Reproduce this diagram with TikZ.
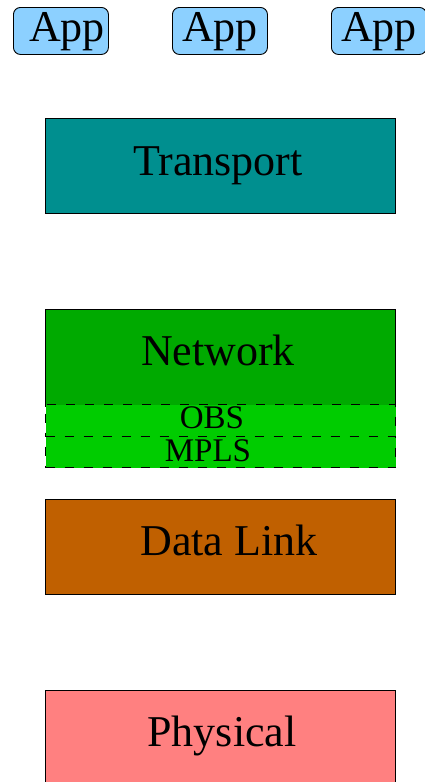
\documentclass[tikz,border=0pt]{standalone}
\usepackage{fontspec}
\setmainfont{Liberation Serif}
\begin{document}
\begin{tikzpicture}[x=1pt,y=-1pt,
  layer/.style={draw=black,line width=0.9pt,minimum width=350pt,minimum height=95pt,inner sep=0pt,anchor=north west},
  sublayer/.style={draw=black,dash pattern=on 9pt off 10pt,line width=1.2pt,fill=subgreen,minimum width=350pt,inner sep=0pt,anchor=north west},
  appbox/.style={draw=black,line width=0.9pt,fill=appblue,rounded corners=7pt,minimum width=95pt,minimum height=47pt,inner sep=0pt,anchor=north west},
  big/.style={font=\fontsize{44}{48}\selectfont,inner sep=0pt},
  small/.style={font=\fontsize{33}{36}\selectfont,inner sep=0pt}]
\definecolor{appblue}{RGB}{140,208,255}
\definecolor{transteal}{RGB}{0,143,143}
\definecolor{netgreen}{RGB}{0,170,0}
\definecolor{subgreen}{RGB}{0,204,0}
\definecolor{linkbrown}{RGB}{192,96,0}
\definecolor{physpink}{RGB}{255,128,128}
\useasboundingbox (0,0) rectangle (425,782);

% application boxes
\node[appbox] (app1) at (13,7) {};
\node[appbox] (app2) at (172,7) {};
\node[appbox] (app3) at (331,7) {};
\node[big,anchor=base] at (67,41) {App};
\node[big,anchor=base] at (220,41) {App};
\node[big,anchor=base] at (379,41) {App};

% protocol layers
\node[layer,fill=transteal] (transport) at (45,118) {};
\node[big,anchor=base] at (218,175) {Transport};

% network box: filled a little past its bottom so the OBS sublayer overlaps it;
% outline on three sides, the bottom edge belongs to the OBS sublayer
\node[layer,fill=netgreen,draw=none,minimum height=97pt] (network) at (45,309) {};
\draw[line width=0.9pt] (network.south west) -- (network.north west) -- (network.north east) -- (network.south east);
\node[big,anchor=base] at (218,365) {Network};

\node[sublayer,minimum height=32pt] (obs) at (45,404) {};
\node[small,anchor=base] at (212,428) {OBS};
\node[sublayer,minimum height=31pt] (mpls) at (45,436) {};
\node[small,anchor=base] at (208,461) {MPLS};

\node[layer,fill=linkbrown] (datalink) at (45,499) {};
\node[big,anchor=base] at (229,555) {Data Link};

\node[layer,fill=physpink] (physical) at (45,690) {};
\node[big,anchor=base] at (222,746) {Physical};
\end{tikzpicture}
\end{document}
